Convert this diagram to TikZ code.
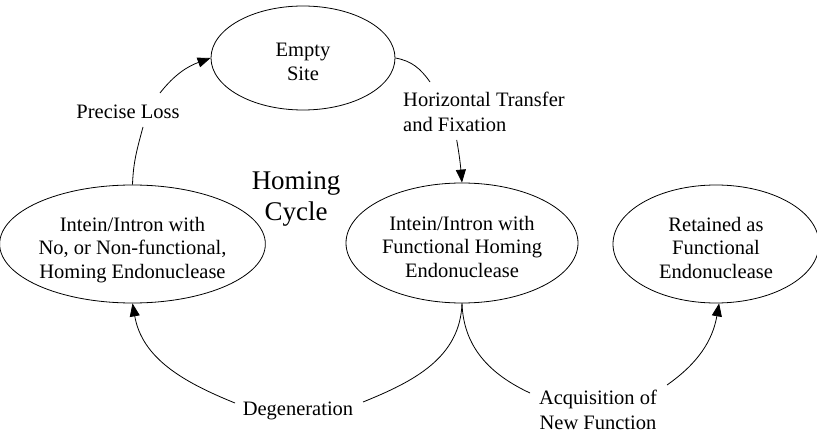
\documentclass[tikz,border=0pt]{standalone}
\usepackage{fontspec}
\setmainfont{Liberation Serif}
\usetikzlibrary{shapes.geometric,arrows.meta}
\newcommand{\lowtext}[1]{\raisebox{-6pt}[\height][\depth]{\begin{tabular}{@{}c@{}}#1\end{tabular}}}
\begin{document}
\begin{tikzpicture}[x=1pt,y=1pt,
  state/.style={ellipse,draw,line width=0.8pt,inner sep=0pt,align=center,font=\fontsize{20.5}{23.5}\selectfont},
  lbl/.style={inner sep=0pt,font=\fontsize{20.5}{24.5}\selectfont},
  big/.style={inner sep=0pt,align=center,font=\fontsize{27}{31}\selectfont},
  conn/.style={line width=0.8pt},
  arr/.style={conn,-{Triangle[length=13pt,width=10pt]}}]
\useasboundingbox (0,0) rectangle (817,-433);
\node[state,minimum width=184pt,minimum height=104pt] (es) at (303,-58) {\lowtext{Empty\\Site}};
\node[state,minimum width=240pt,minimum height=118pt] (lt) at (132.5,-244) {\lowtext{Intein/Intron with\\No, or Non-functional,\\Homing Endonuclease}};
\node[state,minimum width=232pt,minimum height=120pt] (mid) at (462,-243) {\lowtext{Intein/Intron with\\Functional Homing\\Endonuclease}};
\node[state,minimum width=206pt,minimum height=118pt] (rt) at (716,-244) {\lowtext{Retained as\\Functional\\Endonuclease}};
\node[big] (hc) at (296,-199) {Homing\\Cycle};
\node[lbl] (pl) at (128,-112) {Precise Loss};
\node[lbl,align=left,anchor=west] (ht) at (403,-112) {Horizontal Transfer\\and Fixation};
\node[lbl] (dg) at (298,-411) {Degeneration};
\node[lbl,align=center] (aq) at (598,-410) {Acquisition of\\New Function};
\coordinate (pl1) at (143,-127);
\coordinate (pl2) at (160,-93);
\coordinate (ht1) at (430,-82);
\coordinate (ht2) at (456.7,-140);
\coordinate (dl) at (235,-403);
\coordinate (dr) at (363,-402);
\coordinate (al) at (530,-393);
\coordinate (ar) at (667,-385);
\draw[conn] (lt.north) to[out=88,in=-105] (pl1);
\draw[arr] (pl2) to[out=52,in=200] (es.west);
\draw[conn] (es.east) to[out=-10,in=125] (ht1);
\draw[arr] (ht2) to[out=-80,in=95] (mid.north);
\draw[conn] (mid.south) to[out=-92,in=22] (dr);
\draw[arr] (dl) to[out=158,in=-80] (lt.south);
\draw[conn] (mid.south) to[out=-88,in=155] (al);
\draw[arr] (ar) to[out=35,in=-100] (rt.-87);
\end{tikzpicture}
\end{document}
